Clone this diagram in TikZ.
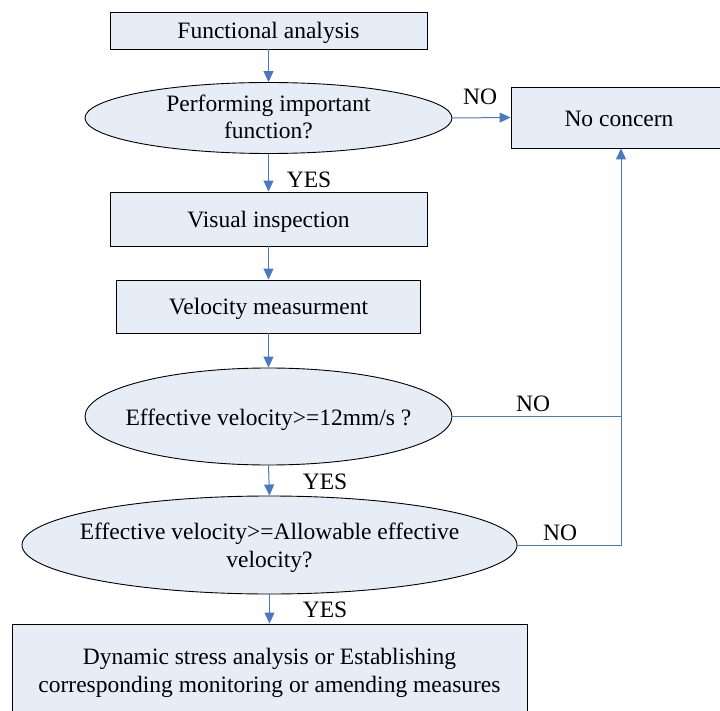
\documentclass[tikz,border=0pt]{standalone}
\usepackage{fontspec}
\setmainfont{Liberation Serif}
\usetikzlibrary{shapes.geometric,arrows.meta}
\definecolor{boxfill}{HTML}{E7EDF7}
\definecolor{linkblue}{HTML}{4A78C2}
\begin{document}
\begin{tikzpicture}[x=1pt,y=-1pt,
  every node/.style={font=\fontsize{23.5}{27.5}\selectfont},
  procbox/.style={draw=black,line width=0.9pt,fill=boxfill,rectangle,inner sep=0pt},
  decell/.style={draw=black,line width=0.9pt,fill=boxfill,ellipse,inner sep=0pt},
  txt/.style={align=center,inner sep=0pt},
  link/.style={draw=linkblue,line width=1pt},
  flow/.style={link,-{Triangle[length=11pt,width=10pt]}},
  lbl/.style={inner sep=0pt}]
\useasboundingbox (0,0) rectangle (720,711);
\fill[white] (0,0) rectangle (720,711);

\node[procbox,minimum width=317pt,minimum height=37pt] (fa) at (268.5,30.5) {};
\node[txt] (fat) at (268.5,33) {Functional analysis};
\node[decell,minimum width=367pt,minimum height=71pt] (e1) at (268.5,118) {};
\node[txt] (e1t) at (268.5,117) {Performing important\\function?};
\node[procbox,minimum width=216pt,minimum height=61pt] (nc) at (619,117.5) {};
\node[txt] (nct) at (619,119) {No concern};
\node[procbox,minimum width=317pt,minimum height=54pt] (vi) at (268.5,219) {};
\node[txt] (vit) at (268.5,221.5) {Visual inspection};
\node[procbox,minimum width=304pt,minimum height=53pt] (vm) at (268.5,306.5) {};
\node[txt] (vmt) at (268.5,309) {Velocity measurment};
\node[decell,minimum width=367pt,minimum height=97pt] (e2) at (268.5,416.5) {};
\node[txt] (e2t) at (268.5,420) {Effective velocity>=12mm/s ?};
\node[decell,minimum width=495pt,minimum height=98pt] (e3) at (269.5,545) {};
\node[txt] (e3t) at (269.5,548) {Effective velocity>=Allowable effective\\velocity?};
\node[procbox,minimum width=515pt,minimum height=92pt] (fb) at (269.5,670) {};
\node[txt] (fbt) at (269.5,673) {Dynamic stress analysis or Establishing\\corresponding monitoring or amending measures};

\coordinate (j2) at (621,416.5);
\coordinate (j3) at (621,545);

\draw[flow] (fa.south) -- (e1.north);
\draw[flow] (e1.east) -- (nc.west);
\draw[flow] (e1.south) -- (vi.north);
\draw[flow] (vi.south) -- (vm.north);
\draw[flow] (vm.south) -- (e2.north);
\draw[flow] (e2.east) -- (j2) -- (j2 |- nc.south);
\draw[flow] (e2.south) -- (e3.north);
\draw[link] (e3.east) -- (j3) -- (j2);
\draw[flow] (e3.south) -- (fb.north);

\node[lbl] (no1) at (480,97) {NO};
\node[lbl] (yes1) at (309,180) {YES};
\node[lbl] (no2) at (533,404) {NO};
\node[lbl] (yes2) at (325,482) {YES};
\node[lbl] (no3) at (560,533) {NO};
\node[lbl] (yes3) at (325,610) {YES};
\end{tikzpicture}
\end{document}
